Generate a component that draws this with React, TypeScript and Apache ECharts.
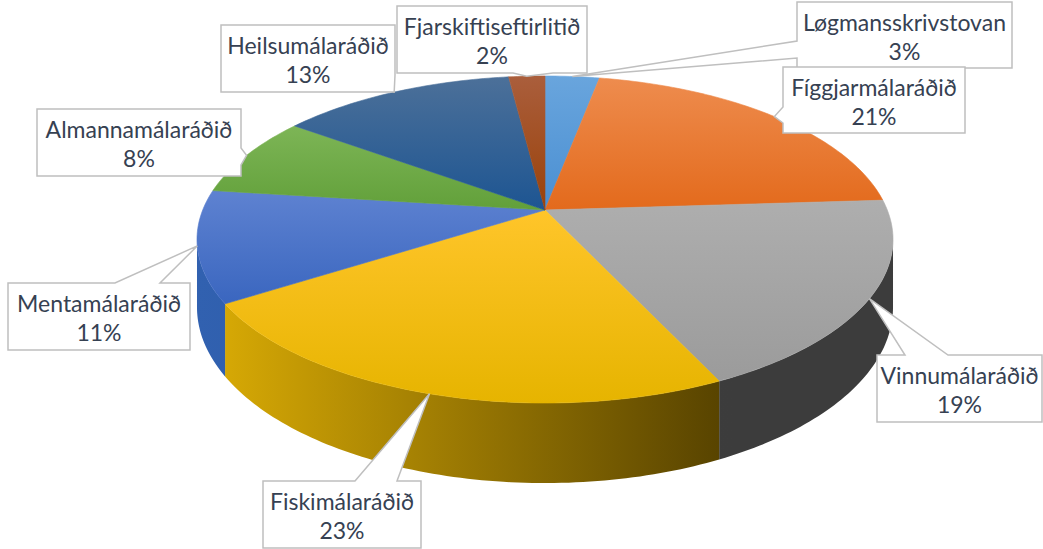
import React, { useEffect, useRef } from 'react';
import * as echarts from 'echarts';

// ---- data ----
const categories = [
  'Løgmansskrivstovan',
  'Fíggjarmálaráðið',
  'Vinnumálaráðið',
  'Fiskimálaráðið',
  'Mentamálaráðið',
  'Almannamálaráðið',
  'Heilsumálaráðið',
  'Fjarskiftiseftirlitið',
];
const shares = [3, 21, 19, 23, 11, 8, 13, 2];

// ---- styles ----
const topColors: [string, string][] = [
  ['#69A5DD', '#4A8FD2'],
  ['#EE8C4E', '#E36A1C'],
  ['#AEAEAE', '#9B9B9B'],
  ['#FFC52A', '#E6B400'],
  ['#5E82D1', '#3A66BF'],
  ['#7DB556', '#62A03A'],
  ['#4C7099', '#1D5592'],
  ['#AA5E3C', '#9A420A'],
];
const sideColors: [string, string][] = [
  ['#3F7CB8', '#356CA3'],
  ['#C45A16', '#A44A10'],
  ['#444444', '#3C3C3C'],
  ['#DDAE05', '#554100'],
  ['#3161B0', '#274F96'],
  ['#538A31', '#467429'],
  ['#1B4A7C', '#163E69'],
  ['#7E3608', '#6A2D06'],
];
const labelColor = '#364152';

// ---- layout ----
const PIE = { cx: 545, cy: 210, A: 342.3, B: 158.2, k: -0.1804, depth: 65.6 };
type Box = { x: number; y: number; w: number; h: number; side: string; b0: number; b1: number };
const LABEL_BOXES: Box[] = [
  { x: 797, y: 2, w: 215, h: 66, side: 'left', b0: 41, b1: 58 },
  { x: 783, y: 67, w: 182, h: 66, side: 'left', b0: 107, b1: 123 },
  { x: 877, y: 355, w: 165, h: 67, side: 'top', b0: 905, b1: 948 },
  { x: 263, y: 481, w: 158, h: 67, side: 'top', b0: 355, b1: 397 },
  { x: 8, y: 283, w: 182, h: 67, side: 'top', b0: 115, b1: 160 },
  { x: 37, y: 109, w: 204, h: 67, side: 'right', b0: 148, b1: 165 },
  { x: 221, y: 25, w: 174, h: 67, side: 'right', b0: 75, b1: 92 },
  { x: 397, y: 6, w: 190, h: 67, side: 'bottom', b0: 513, b1: 553 },
];

function proj(deg: number) {
  const t = (deg * Math.PI) / 180;
  const u = Math.sin(t);
  const v = -Math.cos(t);
  const w = 1 + PIE.k * v;
  return { x: PIE.cx + (PIE.A * u) / w, y: PIE.cy + (PIE.B * v) / w, w };
}

const SIL_L = (Math.acos(PIE.k) * 180) / Math.PI;
const SIL_R = 360 - SIL_L;

function arcPoints(a0: number, a1: number) {
  const pts: number[][] = [];
  const n = Math.max(2, Math.ceil((a1 - a0) / 1));
  for (let i = 0; i <= n; i++) {
    const p = proj(a0 + ((a1 - a0) * i) / n);
    pts.push([p.x, p.y]);
  }
  return pts;
}

function calloutPoints(b: Box, tip: number[]) {
  const pts: number[][] = [];
  const { x, y, w, h } = b;
  pts.push([x, y]);
  if (b.side === 'top') pts.push([b.b0, y], tip, [b.b1, y]);
  pts.push([x + w, y]);
  if (b.side === 'right') pts.push([x + w, b.b0], tip, [x + w, b.b1]);
  pts.push([x + w, y + h]);
  if (b.side === 'bottom') pts.push([b.b1, y + h], tip, [b.b0, y + h]);
  pts.push([x, y + h]);
  if (b.side === 'left') pts.push([x, b.b1], tip, [x, b.b0]);
  return pts;
}

export default function App() {
  const ref = useRef<HTMLDivElement>(null);
  useEffect(() => {
    document.body.style.margin = '0';
    if (!ref.current) return;
    const chart = echarts.init(ref.current, undefined, { renderer: 'svg' });
    const total = shares.reduce((s, v) => s + v, 0);
    const starts: number[] = [];
    let acc = 0;
    shares.forEach((v) => {
      starts.push(acc);
      acc += v;
    });
    const renderItem = (params: any, api: any) => {
      const i = params.dataIndex;
      const val = api.value(0);
      const a0 = (starts[i] / total) * 360;
      const a1 = a0 + (val / total) * 360;
      const children: any[] = [];
      const s0 = Math.max(a0, SIL_L);
      const s1 = Math.min(a1, SIL_R);
      if (s1 > s0) {
        const topPts = arcPoints(s0, s1);
        const botPts: number[][] = [];
        const n = topPts.length - 1;
        for (let j = n; j >= 0; j--) {
          const p = proj(s0 + ((s1 - s0) * j) / n);
          botPts.push([p.x, p.y + PIE.depth / p.w]);
        }
        children.push({
          type: 'polygon',
          z2: 1,
          shape: { points: topPts.concat(botPts) },
          style: {
            fill: new echarts.graphic.LinearGradient(
              PIE.cx - PIE.A * 1.02, 0, PIE.cx + PIE.A * 0.55, 0,
              [
                { offset: 0, color: sideColors[i][0] },
                { offset: 1, color: sideColors[i][1] },
              ],
              true
            ),
          },
        });
      }
      const face = [[PIE.cx, PIE.cy]].concat(arcPoints(a0, a1));
      const grad = new echarts.graphic.LinearGradient(0, 0, 0, 1, [
        { offset: 0, color: topColors[i][0] },
        { offset: 1, color: topColors[i][1] },
      ]);
      children.push({
        type: 'polygon',
        z2: 2,
        shape: { points: face },
        style: { fill: grad, stroke: grad, lineWidth: 0.6 },
      });
      const mid = proj((a0 + a1) / 2);
      const b = LABEL_BOXES[i];
      children.push({
        type: 'polygon',
        z2: 3,
        shape: { points: calloutPoints(b, [mid.x, mid.y]) },
        style: { fill: '#FFFFFF', stroke: '#BFBFBF', lineWidth: 1.5 },
      });
      children.push({
        type: 'text',
        z2: 4,
        style: {
          text: categories[i] + '\n' + Math.round((val / total) * 100) + '%',
          x: b.x + b.w / 2,
          y: b.y + b.h / 2 + 1,
          align: 'center',
          verticalAlign: 'middle',
          fontFamily: 'Lato',
          fontSize: 23,
          lineHeight: 29,
          fill: labelColor,
        },
      });
      return { type: 'group', children };
    };
    chart.setOption({
      animation: false,
      backgroundColor: '#FFFFFF',
      series: [
        {
          type: 'custom',
          coordinateSystem: 'none',
          silent: true,
          renderItem,
          data: shares.map((v, i) => ({ name: categories[i], value: [v] })),
        },
      ],
    });
    return () => chart.dispose();
  }, []);
  return <div ref={ref} style={{ width: 1043, height: 549 }} />;
}
